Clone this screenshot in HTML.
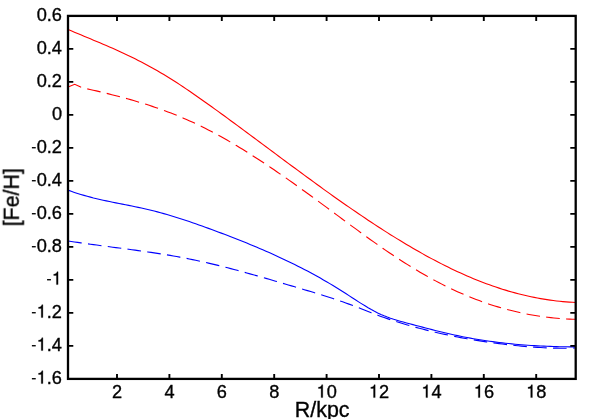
<!DOCTYPE html>
<html><head><meta charset="utf-8"><title>plot</title>
<style>
html,body{margin:0;padding:0;background:#fff;}
body{width:598px;height:419px;overflow:hidden;}
svg{display:block;}
text{font-family:"Liberation Sans",sans-serif;fill:#000;stroke:#000;stroke-width:0.35px;}
#txt{opacity:0.999;}
.t{font-size:18.2px;}
.l{font-size:21.4px;}
</style></head><body>
<svg width="598" height="419" viewBox="0 0 598 419">
<rect x="0" y="0" width="598" height="419" fill="#fff"/>

<g fill="none" stroke-width="1.1" stroke-linejoin="miter">
<path d="M68.0 29.49 L71.2 30.84 L74.4 32.18 L77.6 33.52 L80.8 34.85 L84.0 36.18 L87.2 37.50 L90.4 38.83 L93.5 40.16 L96.7 41.50 L99.9 42.85 L103.1 44.21 L106.3 45.58 L109.5 46.96 L112.7 48.36 L115.9 49.78 L119.1 51.22 L122.3 52.69 L125.5 54.18 L128.7 55.70 L131.9 57.24 L135.1 58.82 L138.2 60.43 L141.4 62.07 L144.6 63.75 L147.8 65.45 L151.0 67.20 L154.2 68.98 L157.4 70.79 L160.6 72.65 L163.8 74.54 L167.0 76.48 L170.2 78.45 L173.4 80.46 L176.6 82.51 L179.8 84.60 L183.0 86.71 L186.1 88.86 L189.3 91.03 L192.5 93.23 L195.7 95.45 L198.9 97.69 L202.1 99.94 L205.3 102.21 L208.5 104.49 L211.7 106.78 L214.9 109.08 L218.1 111.39 L221.3 113.71 L224.5 116.04 L227.7 118.37 L230.8 120.71 L234.0 123.05 L237.2 125.40 L240.4 127.75 L243.6 130.11 L246.8 132.48 L250.0 134.84 L253.2 137.21 L256.4 139.59 L259.6 141.96 L262.8 144.34 L266.0 146.71 L269.2 149.09 L272.4 151.47 L275.6 153.84 L278.7 156.22 L281.9 158.59 L285.1 160.96 L288.3 163.33 L291.5 165.70 L294.7 168.06 L297.9 170.42 L301.1 172.77 L304.3 175.12 L307.5 177.46 L310.7 179.80 L313.9 182.13 L317.1 184.45 L320.3 186.76 L323.4 189.07 L326.6 191.36 L329.8 193.65 L333.0 195.93 L336.2 198.20 L339.4 200.45 L342.6 202.70 L345.8 204.93 L349.0 207.15 L352.2 209.36 L355.4 211.55 L358.6 213.73 L361.8 215.90 L365.0 218.05 L368.1 220.19 L371.3 222.31 L374.5 224.41 L377.7 226.49 L380.9 228.56 L384.1 230.61 L387.3 232.65 L390.5 234.66 L393.7 236.65 L396.9 238.63 L400.1 240.58 L403.3 242.51 L406.5 244.43 L409.7 246.31 L412.9 248.18 L416.0 250.02 L419.2 251.85 L422.4 253.64 L425.6 255.41 L428.8 257.16 L432.0 258.88 L435.2 260.58 L438.4 262.24 L441.6 263.88 L444.8 265.50 L448.0 267.08 L451.2 268.64 L454.4 270.16 L457.6 271.66 L460.7 273.12 L463.9 274.56 L467.1 275.96 L470.3 277.33 L473.5 278.67 L476.7 279.97 L479.9 281.24 L483.1 282.48 L486.3 283.68 L489.5 284.85 L492.7 285.98 L495.9 287.07 L499.1 288.13 L502.3 289.16 L505.5 290.14 L508.6 291.10 L511.8 292.01 L515.0 292.89 L518.2 293.73 L521.4 294.54 L524.6 295.31 L527.8 296.04 L531.0 296.73 L534.2 297.39 L537.4 298.01 L540.6 298.59 L543.8 299.13 L547.0 299.64 L550.2 300.11 L553.3 300.54 L556.5 300.93 L559.7 301.28 L562.9 301.60 L566.1 301.87 L569.3 302.11 L572.5 302.31 L575.7 302.46" stroke="#ff0000"/>
<path d="M68.0 86.9 L74.7 84.3 L80.7 87.10 L83.8 88.08 L86.9 88.78 L90.0 89.48 L93.2 90.18 L96.3 90.90 L99.4 91.63 L102.5 92.37 L105.6 93.12 L108.7 93.88 L111.8 94.66 L114.9 95.45 L118.1 96.26 L121.2 97.08 L124.3 97.92 L127.4 98.78 L130.5 99.65 L133.6 100.55 L136.7 101.46 L139.9 102.40 L143.0 103.36 L146.1 104.34 L149.2 105.34 L152.3 106.37 L155.4 107.42 L158.5 108.50 L161.6 109.61 L164.8 110.74 L167.9 111.90 L171.0 113.09 L174.1 114.31 L177.2 115.56 L180.3 116.84 L183.4 118.16 L186.5 119.50 L189.7 120.88 L192.8 122.30 L195.9 123.75 L199.0 125.24 L202.1 126.76 L205.2 128.32 L208.3 129.90 L211.5 131.52 L214.6 133.18 L217.7 134.86 L220.8 136.57 L223.9 138.31 L227.0 140.08 L230.1 141.88 L233.2 143.71 L236.4 145.56 L239.5 147.44 L242.6 149.34 L245.7 151.26 L248.8 153.21 L251.9 155.19 L255.0 157.18 L258.2 159.20 L261.3 161.23 L264.4 163.29 L267.5 165.36 L270.6 167.46 L273.7 169.57 L276.8 171.69 L279.9 173.84 L283.1 176.00 L286.2 178.17 L289.3 180.36 L292.4 182.56 L295.5 184.77 L298.6 187.00 L301.7 189.23 L304.9 191.48 L308.0 193.74 L311.1 196.00 L314.2 198.27 L317.3 200.55 L320.4 202.84 L323.5 205.13 L326.6 207.43 L329.8 209.73 L332.9 212.03 L336.0 214.34 L339.1 216.65 L342.2 218.95 L345.3 221.26 L348.4 223.56 L351.5 225.85 L354.7 228.14 L357.8 230.42 L360.9 232.69 L364.0 234.95 L367.1 237.20 L370.2 239.43 L373.3 241.65 L376.5 243.85 L379.6 246.04 L382.7 248.20 L385.8 250.34 L388.9 252.46 L392.0 254.56 L395.1 256.63 L398.2 258.68 L401.4 260.70 L404.5 262.68 L407.6 264.64 L410.7 266.57 L413.8 268.47 L416.9 270.34 L420.0 272.17 L423.2 273.98 L426.3 275.75 L429.4 277.49 L432.5 279.20 L435.6 280.88 L438.7 282.52 L441.8 284.13 L444.9 285.70 L448.1 287.24 L451.2 288.74 L454.3 290.21 L457.4 291.64 L460.5 293.03 L463.6 294.39 L466.7 295.71 L469.9 296.99 L473.0 298.23 L476.1 299.44 L479.2 300.61 L482.3 301.74 L485.4 302.84 L488.5 303.90 L491.6 304.93 L494.8 305.92 L497.9 306.87 L501.0 307.78 L504.1 308.66 L507.2 309.51 L510.3 310.32 L513.4 311.09 L516.5 311.83 L519.7 312.53 L522.8 313.20 L525.9 313.83 L529.0 314.43 L532.1 314.99 L535.2 315.52 L538.3 316.02 L541.5 316.48 L544.6 316.90 L547.7 317.29 L550.8 317.65 L553.9 317.98 L557.0 318.27 L560.1 318.52 L563.2 318.75 L566.4 318.94 L569.5 319.09 L572.6 319.22 L575.7 319.31" stroke="#ff0000" stroke-dasharray="13.6 6.34" stroke-dashoffset="-0.7"/>
<path d="M68.0 190.13 L71.2 191.30 L74.4 192.41 L77.6 193.46 L80.8 194.45 L84.0 195.40 L87.2 196.29 L90.4 197.14 L93.5 197.96 L96.7 198.73 L99.9 199.48 L103.1 200.20 L106.3 200.89 L109.5 201.57 L112.7 202.22 L115.9 202.87 L119.1 203.51 L122.3 204.14 L125.5 204.77 L128.7 205.40 L131.9 206.04 L135.1 206.69 L138.2 207.36 L141.4 208.05 L144.6 208.75 L147.8 209.49 L151.0 210.25 L154.2 211.04 L157.4 211.87 L160.6 212.73 L163.8 213.61 L167.0 214.52 L170.2 215.46 L173.4 216.43 L176.6 217.42 L179.8 218.43 L183.0 219.46 L186.1 220.51 L189.3 221.59 L192.5 222.68 L195.7 223.78 L198.9 224.91 L202.1 226.05 L205.3 227.20 L208.5 228.36 L211.7 229.54 L214.9 230.72 L218.1 231.92 L221.3 233.12 L224.5 234.33 L227.7 235.55 L230.8 236.78 L234.0 238.02 L237.2 239.27 L240.4 240.53 L243.6 241.81 L246.8 243.10 L250.0 244.40 L253.2 245.72 L256.4 247.06 L259.6 248.41 L262.8 249.78 L266.0 251.16 L269.2 252.56 L272.4 253.99 L275.6 255.43 L278.7 256.89 L281.9 258.38 L285.1 259.88 L288.3 261.41 L291.5 262.96 L294.7 264.54 L297.9 266.14 L301.1 267.76 L304.3 269.42 L307.5 271.09 L310.7 272.80 L313.9 274.53 L317.1 276.30 L320.3 278.09 L323.4 279.91 L326.6 281.77 L329.8 283.65 L333.0 285.57 L336.2 287.52 L339.4 289.51 L342.6 291.53 L345.8 293.58 L349.0 295.65 L352.2 297.73 L355.4 299.80 L358.6 301.85 L361.8 303.87 L365.0 305.83 L368.1 307.73 L371.3 309.55 L374.5 311.27 L377.7 312.89 L380.9 314.39 L384.1 315.76 L387.3 317.01 L390.5 318.16 L393.7 319.23 L396.9 320.22 L400.1 321.16 L403.3 322.05 L406.5 322.92 L409.7 323.77 L412.9 324.61 L416.0 325.46 L419.2 326.31 L422.4 327.15 L425.6 327.99 L428.8 328.82 L432.0 329.64 L435.2 330.44 L438.4 331.24 L441.6 332.02 L444.8 332.79 L448.0 333.54 L451.2 334.26 L454.4 334.97 L457.6 335.65 L460.7 336.31 L463.9 336.95 L467.1 337.56 L470.3 338.15 L473.5 338.71 L476.7 339.26 L479.9 339.78 L483.1 340.28 L486.3 340.76 L489.5 341.22 L492.7 341.66 L495.9 342.08 L499.1 342.48 L502.3 342.86 L505.5 343.22 L508.6 343.56 L511.8 343.88 L515.0 344.19 L518.2 344.47 L521.4 344.74 L524.6 344.99 L527.8 345.23 L531.0 345.45 L534.2 345.65 L537.4 345.83 L540.6 346.00 L543.8 346.15 L547.0 346.29 L550.2 346.42 L553.3 346.52 L556.5 346.62 L559.7 346.70 L562.9 346.77 L566.1 346.82 L569.3 346.86 L572.5 346.89 L575.7 346.91" stroke="#0000ff"/>
<path d="M68.0 240.99 L71.2 241.47 L74.4 241.95 L77.6 242.41 L80.8 242.87 L84.0 243.32 L87.2 243.77 L90.4 244.21 L93.5 244.64 L96.7 245.07 L99.9 245.50 L103.1 245.92 L106.3 246.35 L109.5 246.77 L112.7 247.18 L115.9 247.60 L119.1 248.02 L122.3 248.44 L125.5 248.87 L128.7 249.29 L131.9 249.72 L135.1 250.15 L138.2 250.59 L141.4 251.03 L144.6 251.48 L147.8 251.93 L151.0 252.40 L154.2 252.87 L157.4 253.36 L160.6 253.85 L163.8 254.36 L167.0 254.88 L170.2 255.41 L173.4 255.96 L176.6 256.52 L179.8 257.10 L183.0 257.70 L186.1 258.31 L189.3 258.94 L192.5 259.59 L195.7 260.26 L198.9 260.95 L202.1 261.65 L205.3 262.37 L208.5 263.11 L211.7 263.86 L214.9 264.63 L218.1 265.40 L221.3 266.20 L224.5 267.00 L227.7 267.82 L230.8 268.65 L234.0 269.49 L237.2 270.34 L240.4 271.21 L243.6 272.08 L246.8 272.96 L250.0 273.85 L253.2 274.74 L256.4 275.64 L259.6 276.55 L262.8 277.47 L266.0 278.39 L269.2 279.32 L272.4 280.25 L275.6 281.18 L278.7 282.12 L281.9 283.06 L285.1 284.00 L288.3 284.94 L291.5 285.89 L294.7 286.83 L297.9 287.78 L301.1 288.72 L304.3 289.67 L307.5 290.62 L310.7 291.58 L313.9 292.54 L317.1 293.51 L320.3 294.50 L323.4 295.49 L326.6 296.51 L329.8 297.53 L333.0 298.58 L336.2 299.64 L339.4 300.73 L342.6 301.83 L345.8 302.96 L349.0 304.12 L352.2 305.31 L355.4 306.52 L358.6 307.76 L361.8 309.02 L365.0 310.28 L368.1 311.54 L371.3 312.79 L374.5 314.02 L377.7 315.22 L380.9 316.40 L384.1 317.54 L387.3 318.64 L390.5 319.72 L393.7 320.77 L396.9 321.79 L400.1 322.78 L403.3 323.75 L406.5 324.69 L409.7 325.61 L412.9 326.51 L416.0 327.39 L419.2 328.25 L422.4 329.09 L425.6 329.90 L428.8 330.70 L432.0 331.48 L435.2 332.23 L438.4 332.97 L441.6 333.69 L444.8 334.39 L448.0 335.07 L451.2 335.73 L454.4 336.38 L457.6 337.00 L460.7 337.61 L463.9 338.20 L467.1 338.78 L470.3 339.33 L473.5 339.87 L476.7 340.40 L479.9 340.91 L483.1 341.40 L486.3 341.87 L489.5 342.34 L492.7 342.78 L495.9 343.21 L499.1 343.63 L502.3 344.03 L505.5 344.42 L508.6 344.79 L511.8 345.15 L515.0 345.49 L518.2 345.82 L521.4 346.13 L524.6 346.42 L527.8 346.69 L531.0 346.94 L534.2 347.17 L537.4 347.39 L540.6 347.57 L543.8 347.74 L547.0 347.88 L550.2 348.00 L553.3 348.09 L556.5 348.15 L559.7 348.19 L562.9 348.20 L566.1 348.18 L569.3 348.14 L572.5 348.06 L575.7 347.95" stroke="#0000ff" stroke-dasharray="13.6 6.33" stroke-dashoffset="-0.3"/>
</g>
<g stroke="#000" stroke-width="2.3" fill="none">
<rect x="68.0" y="15.9" width="507.70000000000005" height="363.0"/>
<path stroke-width="1.9" d="M117.0 378.9 V373.9 M117.0 15.9 V20.9"/>
<path stroke-width="1.9" d="M169.4 378.9 V373.9 M169.4 15.9 V20.9"/>
<path stroke-width="1.9" d="M221.8 378.9 V373.9 M221.8 15.9 V20.9"/>
<path stroke-width="1.9" d="M274.2 378.9 V373.9 M274.2 15.9 V20.9"/>
<path stroke-width="1.9" d="M326.6 378.9 V373.9 M326.6 15.9 V20.9"/>
<path stroke-width="1.9" d="M379.0 378.9 V373.9 M379.0 15.9 V20.9"/>
<path stroke-width="1.9" d="M431.4 378.9 V373.9 M431.4 15.9 V20.9"/>
<path stroke-width="1.9" d="M483.8 378.9 V373.9 M483.8 15.9 V20.9"/>
<path stroke-width="1.9" d="M536.2 378.9 V373.9 M536.2 15.9 V20.9"/>
<path stroke-width="1.9" d="M68.0 15.9 H73.3 M575.7 15.9 H570.3"/>
<path stroke-width="1.9" d="M68.0 48.9 H73.3 M575.7 48.9 H570.3"/>
<path stroke-width="1.9" d="M68.0 81.9 H73.3 M575.7 81.9 H570.3"/>
<path stroke-width="1.9" d="M68.0 114.9 H73.3 M575.7 114.9 H570.3"/>
<path stroke-width="1.9" d="M68.0 147.9 H73.3 M575.7 147.9 H570.3"/>
<path stroke-width="1.9" d="M68.0 180.9 H73.3 M575.7 180.9 H570.3"/>
<path stroke-width="1.9" d="M68.0 213.9 H73.3 M575.7 213.9 H570.3"/>
<path stroke-width="1.9" d="M68.0 246.9 H73.3 M575.7 246.9 H570.3"/>
<path stroke-width="1.9" d="M68.0 279.9 H73.3 M575.7 279.9 H570.3"/>
<path stroke-width="1.9" d="M68.0 312.9 H73.3 M575.7 312.9 H570.3"/>
<path stroke-width="1.9" d="M68.0 345.9 H73.3 M575.7 345.9 H570.3"/>
<path stroke-width="1.9" d="M68.0 378.9 H73.3 M575.7 378.9 H570.3"/>
</g>
<g id="txt">
<text class="t" x="112.04" y="397.6">2</text>
<text class="t" x="164.44" y="397.6">4</text>
<text class="t" x="216.84" y="397.6">6</text>
<text class="t" x="269.24" y="397.6">8</text>
<path d="M322.77 397.60 L322.77 384.70 L321.73 384.70 C321.46 386.32 320.40 387.10 318.40 387.21 L318.40 388.41 L321.13 388.41 L321.13 397.60 Z" fill="#000" stroke="#000" stroke-width="0.3"/><text class="t" x="326.70" y="397.6">0</text>
<path d="M375.17 397.60 L375.17 384.70 L374.13 384.70 C373.86 386.32 372.80 387.10 370.80 387.21 L370.80 388.41 L373.53 388.41 L373.53 397.60 Z" fill="#000" stroke="#000" stroke-width="0.3"/><text class="t" x="379.10" y="397.6">2</text>
<path d="M427.57 397.60 L427.57 384.70 L426.53 384.70 C426.26 386.32 425.20 387.10 423.20 387.21 L423.20 388.41 L425.93 388.41 L425.93 397.60 Z" fill="#000" stroke="#000" stroke-width="0.3"/><text class="t" x="431.50" y="397.6">4</text>
<path d="M479.97 397.60 L479.97 384.70 L478.93 384.70 C478.66 386.32 477.60 387.10 475.60 387.21 L475.60 388.41 L478.33 388.41 L478.33 397.60 Z" fill="#000" stroke="#000" stroke-width="0.3"/><text class="t" x="483.90" y="397.6">6</text>
<path d="M532.37 397.60 L532.37 384.70 L531.33 384.70 C531.06 386.32 530.00 387.10 528.00 387.21 L528.00 388.41 L530.73 388.41 L530.73 397.60 Z" fill="#000" stroke="#000" stroke-width="0.3"/><text class="t" x="536.30" y="397.6">8</text>
<text class="t" x="36.70" y="20.6">0.6</text>
<text class="t" x="36.70" y="53.6">0.4</text>
<text class="t" x="36.70" y="86.6">0.2</text>
<text class="t" x="51.88" y="119.6">0</text>
<rect x="31.88" y="147.05" width="3.86" height="1.36" fill="#000" stroke="none"/><text class="t" x="36.70" y="152.6">0.2</text>
<rect x="31.88" y="180.05" width="3.86" height="1.36" fill="#000" stroke="none"/><text class="t" x="36.70" y="185.6">0.4</text>
<rect x="31.88" y="213.05" width="3.86" height="1.36" fill="#000" stroke="none"/><text class="t" x="36.70" y="218.6">0.6</text>
<rect x="31.88" y="246.05" width="3.86" height="1.36" fill="#000" stroke="none"/><text class="t" x="36.70" y="251.6">0.8</text>
<rect x="47.06" y="279.05" width="3.86" height="1.36" fill="#000" stroke="none"/><path d="M58.07 284.60 L58.07 271.70 L57.03 271.70 C56.76 273.32 55.70 274.10 53.70 274.21 L53.70 275.41 L56.43 275.41 L56.43 284.60 Z" fill="#000" stroke="#000" stroke-width="0.3"/>
<rect x="31.88" y="312.05" width="3.86" height="1.36" fill="#000" stroke="none"/><path d="M42.89 317.60 L42.89 304.70 L41.85 304.70 C41.58 306.32 40.52 307.10 38.52 307.21 L38.52 308.41 L41.25 308.41 L41.25 317.60 Z" fill="#000" stroke="#000" stroke-width="0.3"/><text class="t" x="46.82" y="317.6">.2</text>
<rect x="31.88" y="345.05" width="3.86" height="1.36" fill="#000" stroke="none"/><path d="M42.89 350.60 L42.89 337.70 L41.85 337.70 C41.58 339.32 40.52 340.10 38.52 340.21 L38.52 341.41 L41.25 341.41 L41.25 350.60 Z" fill="#000" stroke="#000" stroke-width="0.3"/><text class="t" x="46.82" y="350.6">.4</text>
<rect x="31.88" y="378.05" width="3.86" height="1.36" fill="#000" stroke="none"/><path d="M42.89 383.60 L42.89 370.70 L41.85 370.70 C41.58 372.32 40.52 373.10 38.52 373.21 L38.52 374.41 L41.25 374.41 L41.25 383.60 Z" fill="#000" stroke="#000" stroke-width="0.3"/><text class="t" x="46.82" y="383.6">.6</text>
<text class="l" x="322.2" y="417.3" text-anchor="middle">R/kpc</text>
<text class="l" transform="translate(18.8 197.3) rotate(-90)" text-anchor="middle">[Fe/H]</text>
</g>
</svg></body></html>
